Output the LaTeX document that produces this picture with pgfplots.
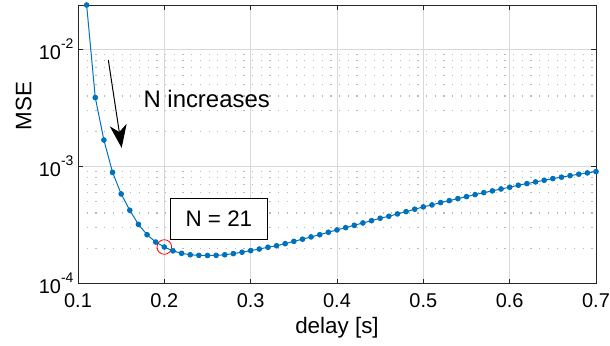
\documentclass[border=0pt]{standalone}
\usepackage{fontspec}
\setmainfont{Liberation Sans}
\usepackage{pgfplots}
\pgfplotsset{compat=1.18}
\usetikzlibrary{arrows.meta}
\definecolor{mblue}{rgb}{0,0.447,0.741}
\newcommand{\tpow}[1]{10\raisebox{11bp}{\fontsize{14}{14}\selectfont #1}}
\begin{document}
\begin{tikzpicture}
\begin{axis}[
  scale only axis,
  width=518bp, height=278.5bp,
  xmin=0.1, xmax=0.7,
  ymode=log, ymin=1e-4, ymax=0.0239,
  axis line style={black!85, line width=0.7bp},
  xtick={0.1,0.2,0.3,0.4,0.5,0.6,0.7},
  xticklabels={0.1,0.2,0.3,0.4,0.5,0.6,0.7},
  ytick={1e-4,1e-3,1e-2},
  yticklabels={\tpow{-4},\tpow{-3},\tpow{-2}},
  tick align=inside,
  major tick length=5bp,
  minor tick length=0bp,
  tick style={black!85, line width=0.6bp},
  xmajorgrids, ymajorgrids, yminorgrids,
  major grid style={black!15, line width=0.6bp},
  minor grid style={black!28, line width=1.2bp, dash pattern=on 1.2bp off 7.5bp},
  tick label style={font=\fontsize{20}{24}\selectfont},
  xticklabel style={yshift=-7bp},
  yticklabel style={xshift=-1bp},
  xlabel={delay [s]},
  ylabel={MSE},
  label style={font=\fontsize{22.5}{27}\selectfont},
  xlabel style={at={(axis description cs:0.5,-0.1219)}, anchor=north, inner sep=0pt},
  ylabel style={at={(axis description cs:-0.0894,0.638)}, anchor=south, inner sep=0pt},
  clip=false,
]
\addplot[color=mblue, line width=1bp, mark=*, mark size=2.3bp, mark options={fill=mblue, draw=mblue}] coordinates {
(0.11,0.0239) (0.12,3.87e-3) (0.13,1.68e-3) (0.14,8.9e-4) (0.15,5.82e-4)
(0.16,4.22e-4) (0.17,3.20e-4) (0.18,2.61e-4) (0.19,2.26e-4) (0.20,2.05e-4)
(0.21,1.90e-4) (0.22,1.81e-4) (0.23,1.76e-4) (0.24,1.74e-4) (0.25,1.735e-4)
(0.26,1.74e-4) (0.27,1.76e-4) (0.28,1.80e-4) (0.29,1.85e-4) (0.30,1.91e-4)
(0.31,1.97e-4) (0.32,2.04e-4) (0.33,2.10e-4) (0.34,2.19e-4) (0.35,2.29e-4)
(0.36,2.39e-4) (0.37,2.50e-4) (0.38,2.61e-4) (0.39,2.74e-4) (0.40,2.87e-4)
(0.41,3.00e-4) (0.42,3.14e-4) (0.43,3.29e-4) (0.44,3.44e-4) (0.45,3.61e-4)
(0.46,3.75e-4) (0.47,3.93e-4) (0.48,4.11e-4) (0.49,4.31e-4) (0.50,4.51e-4)
(0.51,4.69e-4) (0.52,4.91e-4) (0.53,5.10e-4) (0.54,5.31e-4) (0.55,5.52e-4)
(0.56,5.74e-4) (0.57,5.97e-4) (0.58,6.18e-4) (0.59,6.42e-4) (0.60,6.64e-4)
(0.61,6.91e-4) (0.62,7.13e-4) (0.63,7.37e-4) (0.64,7.62e-4) (0.65,7.87e-4)
(0.66,8.09e-4) (0.67,8.34e-4) (0.68,8.58e-4) (0.69,8.80e-4) (0.70,9.03e-4)
};
\draw[red, line width=0.8bp] (axis cs:0.2,2.05e-4) circle[radius=7.3bp];
\draw[black, line width=1bp, -{Stealth[length=23bp,width=17bp,inset=7bp]}] (axis cs:0.1351,8.13e-3) -- (axis cs:0.1506,1.44e-3);
\node[anchor=west, inner sep=0pt, font=\fontsize{24}{28}\selectfont] at (axis cs:0.1757,3.78e-3) {N increases};
\node[draw=black, fill=white, line width=0.8bp, minimum width=97.7bp, minimum height=41bp, inner sep=0pt, font=\fontsize{22.5}{27}\selectfont] at (axis cs:0.2632,3.57e-4) {N = 21};
\end{axis}
\pgfresetboundingbox
\path ([shift={(-78bp,-61.5bp)}]current axis.south west) rectangle ([shift={(14bp,5bp)}]current axis.north east);
\end{tikzpicture}
\end{document}
